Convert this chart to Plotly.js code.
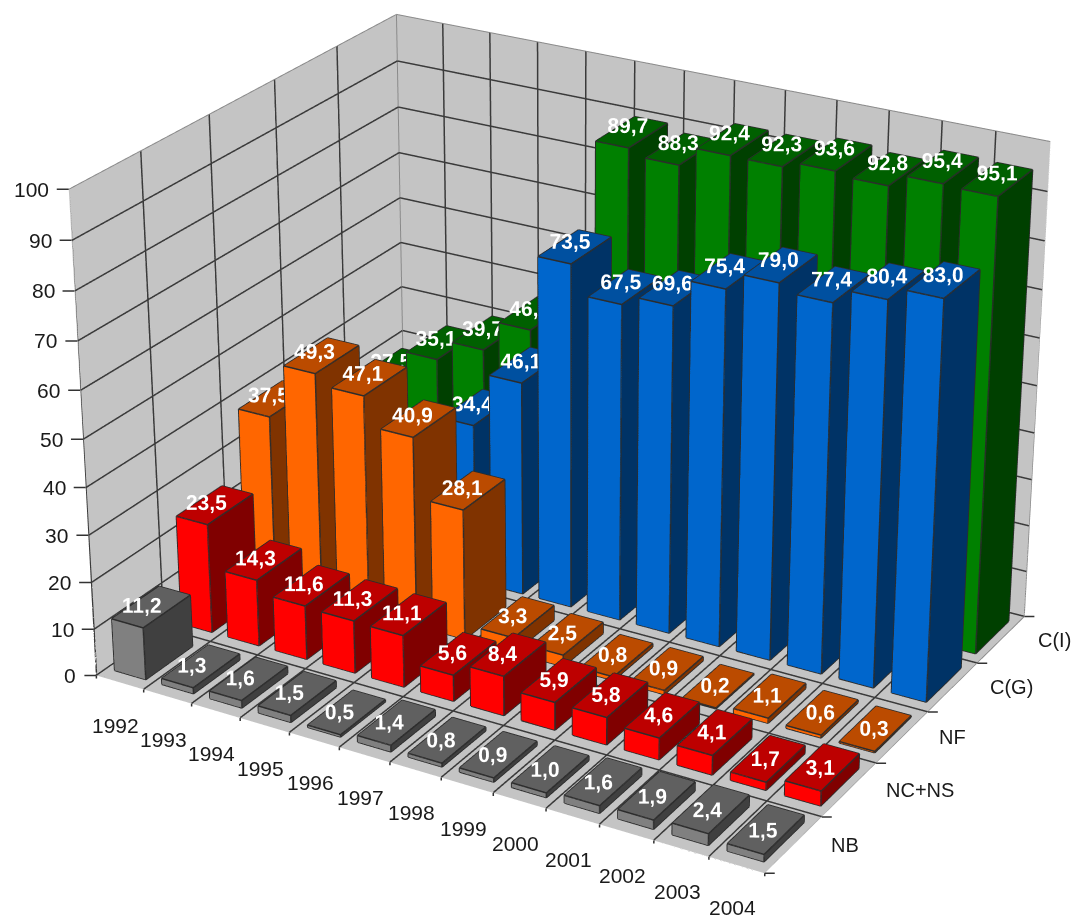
<!DOCTYPE html>
<html>
<head>
<meta charset="utf-8">
<script src="https://cdn.plot.ly/plotly-3.0.1.min.js"></script>
<style>html,body{margin:0;padding:0;background:#fff;overflow:hidden}#frame{position:relative;width:1072px;height:918px;overflow:hidden}#chart{position:absolute;left:-2px;top:-1227px;width:1138px;height:3278px}</style>
</head>
<body>
<div id="frame"><div id="chart"></div></div>
<script>
// Yearly percentage share per category, 1992-2004, as a 3D bar grid
const years = ['1992','1993','1994','1995','1996','1997','1998','1999','2000','2001','2002','2003','2004'];
const categories = ['NB','NC+NS','NF','C(G)','C(I)'];
const nb    = [11.2,1.3,1.6,1.5,0.5,1.4,0.8,0.9,1.0,1.6,1.9,2.4,1.5];
const ncNs  = [23.5,14.3,11.6,11.3,11.1,5.6,8.4,5.9,5.8,4.6,4.1,1.7,3.1];
const nf    = [37.5,49.3,47.1,40.9,28.1,3.3,2.5,0.8,0.9,0.2,1.1,0.6,0.3];
const cG    = [12.0,18.0,26.0,34.4,46.1,73.5,67.5,69.6,75.4,79.0,77.4,80.4,83.0];
const cI    = [27.5,35.1,39.7,46.5,58.0,89.7,88.3,92.4,92.3,93.6,92.8,95.4,95.1];
const seriesValues = [nb,ncNs,nf,cG,cI];
const front = ['#808080','#ff0000','#ff6600','#0066cc','#008000'];
const topC  = ['#606060','#bd0000','#bb4b00','#0050a0','#006000'];
const side  = ['#404040','#800000','#803300','#003366','#004000'];
const zTicks = [0,10,20,30,40,50,60,70,80,90,100];

const BW=0.33,BD=0.35;
function boxes(si){
  const xs=[],ys=[],zs=[],i=[],j=[],k=[],fc=[],lx=[],ly=[],lz=[];
  seriesValues[si].forEach((v,c)=>{
    const x0=c-BW,x1=c+BW,y0=si-BD,y1=si+BD,b=xs.length;
    const pts=[[x0,y0,0],[x1,y0,0],[x1,y1,0],[x0,y1,0],[x0,y0,v],[x1,y0,v],[x1,y1,v],[x0,y1,v]];
    pts.forEach(p=>{xs.push(p[0]);ys.push(p[1]);zs.push(p[2]);});
    const quad=(a,bb,cc,d,col)=>{i.push(b+a,b+a);j.push(b+bb,b+cc);k.push(b+cc,b+d);fc.push(col,col);};
    quad(0,1,5,4,front[si]);quad(1,2,6,5,side[si]);quad(4,5,6,7,topC[si]);
    quad(2,3,7,6,side[si]);quad(3,0,4,7,side[si]);
    [[0,1],[1,2],[4,5],[5,6],[6,7],[7,4],[0,4],[1,5],[2,6]].forEach(e=>{
      const A=pts[e[0]],B=pts[e[1]];
      lx.push(A[0],B[0],null);ly.push(A[1],B[1],null);lz.push(A[2],B[2],null);
    });
  });
  return [{type:'mesh3d',x:xs,y:ys,z:zs,i,j,k,facecolor:fc,flatshading:true,
      lighting:{ambient:1,diffuse:0,specular:0,roughness:1,fresnel:0},hoverinfo:'skip',showscale:false},
    {type:'scatter3d',mode:'lines',x:lx,y:ly,z:lz,line:{color:'#2c2c2c',width:3},hoverinfo:'skip',showlegend:false}];
}
const X0=-0.5,X1=12.5,Y0=-0.5,Y1=4.5,E=0.004;
function polyline(segs,color,width){
  const x=[],y=[],z=[];
  segs.forEach(s=>{x.push(s[0],s[3],null);y.push(s[1],s[4],null);z.push(s[2],s[5],null);});
  return {type:'scatter3d',mode:'lines',x,y,z,line:{color,width},hoverinfo:'skip',showlegend:false};
}
// Walls and floor grid sit on category boundaries, so bars stand inside the cells
const gridSegs=[];
for(let c=0;c<=13;c++){const x=X0+c;
  if(c>0&&c<13)gridSegs.push([x,Y1-E,0,x,Y1-E,100]);
  if(c<13)gridSegs.push([x,Y0,0.05,x,Y1,0.05]);}
for(let s=0;s<=5;s++){const y=Y0+s;
  if(s<5)gridSegs.push([X0+E,y,0,X0+E,y,100]);
  gridSegs.push([X0,y,0.05,X1,y,0.05]);}
zTicks.forEach(z=>{if(z>0&&z<100){gridSegs.push([X0+E,Y0,z,X0+E,Y1,z]);gridSegs.push([X0,Y1-E,z,X1,Y1-E,z]);}});
const rimSegs=[[X0+E,Y0,100,X0+E,Y1-E,100],[X0+E,Y1-E,100,X1,Y1-E,100],[X0+E,Y1-E,0,X0+E,Y1-E,100],[X1,Y0,0.05,X1,Y1,0.05],[X1,Y1-E,0,X1,Y1-E,100]];

const traces=[polyline(gridSegs,'#3a3a3a',3),polyline(rimSegs,'#8a8a8a',2)];
seriesValues.forEach((vals,si)=>{
  traces.push(...boxes(si));
  traces.push({type:'scatter3d',mode:'text',
    x:vals.map((v,c)=>c+BW-0.08),y:vals.map(()=>si-BD+0.05),z:vals.map(v=>v+3.8),
    text:vals.map(v=>v.toFixed(1).replace('.',',')),
    textposition:'middle center',
    textfont:{family:'Liberation Sans',size:21,color:'#fff',weight:'bold'},
    hoverinfo:'skip',showlegend:false});
});

// Tick marks and axis labels are anchored to data coordinates with fixed pixel offsets
const axisFont={family:'Liberation Sans, Arial, sans-serif',size:21,color:'#1a1a1a'};
const sideFont={family:'Liberation Sans, Arial, sans-serif',size:20,color:'#1a1a1a'};
const annotations=[];
const tick=(x,y,z,axx,ayy)=>annotations.push({x,y,z,text:' ',showarrow:true,arrowhead:0,arrowwidth:1.5,arrowcolor:'#333',standoff:0,ax:axx,ay:ayy});
for(let c=0;c<=13;c++)tick(X0+c,Y0,0,0,13);
for(let s=0;s<=5;s++)tick(X1,Y0+s,0,13,0);
zTicks.forEach(z=>tick(X0,Y0,z,-15,0));
years.forEach((t,c)=>annotations.push({x:c,y:Y0,z:0,text:t,showarrow:false,font:axisFont,xanchor:'center',yanchor:'middle',xshift:-4,yshift:-43}));
categories.forEach((t,s)=>annotations.push({x:X1,y:s,z:0,text:t,showarrow:false,font:sideFont,xanchor:'left',yanchor:'middle',xshift:35,yshift:0}));
zTicks.forEach(z=>annotations.push({x:X0,y:Y0,z,text:String(z),showarrow:false,font:axisFont,xanchor:'right',yanchor:'middle',xshift:-18,yshift:0}));

const bare={showbackground:true,backgroundcolor:'#c4c4c4',showgrid:false,showline:false,zeroline:false,ticks:'',showticklabels:false,showspikes:false,title:{text:''}};
const layout={width:1138,height:3278,margin:{l:0,r:0,t:0,b:0},paper_bgcolor:'rgba(0,0,0,0)',showlegend:false,
  scene:{domain:{x:[0,1],y:[0,1]},aspectmode:'manual',aspectratio:{x:1.44,y:1.11,z:1},
    camera:{eye:{x:3.392,y:-5.874,z:3.142},center:{x:0,y:0,z:0},up:{x:0,y:0,z:1},projection:{type:'perspective'}},
    xaxis:Object.assign({},bare,{range:[X0,X1]}),
    yaxis:Object.assign({},bare,{range:[Y0,Y1]}),
    zaxis:Object.assign({},bare,{range:[0,100]}),
    annotations}};
Plotly.newPlot('chart',traces,layout,{displayModeBar:false});
</script>
</body>
</html>
